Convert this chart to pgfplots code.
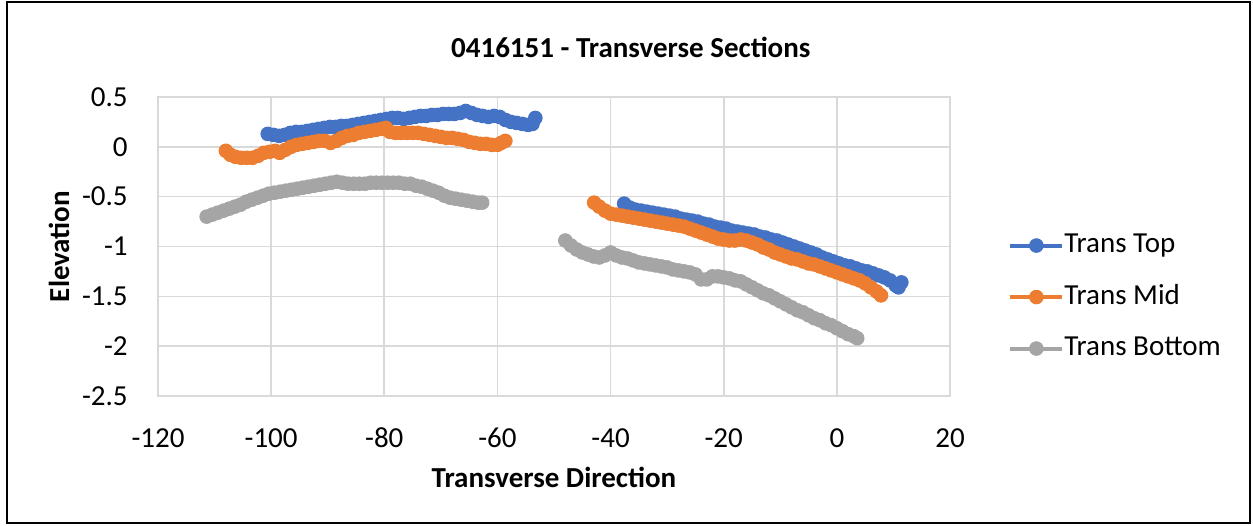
\documentclass[border=0pt]{standalone}
\usepackage{fontspec}
\setmainfont{Carlito}
\usepackage{pgfplots}
\usepackage{pgfplotstable}
\pgfplotsset{compat=1.18}
\definecolor{ctop}{HTML}{4472C4}
\definecolor{cmid}{HTML}{ED7D31}
\definecolor{cbot}{HTML}{A5A5A5}
\definecolor{cgrid}{HTML}{D9D9D9}

\pgfplotstableread{
x y
-100.6 0.13
-99.6 0.12
-98.6 0.11
-97.6 0.12
-96.6 0.14
-95.6 0.15
-94.6 0.15
-93.6 0.16
-92.6 0.17
-91.6 0.18
-90.6 0.19
-89.6 0.20
-88.6 0.20
-87.6 0.21
-86.6 0.21
-85.6 0.22
-84.6 0.23
-83.6 0.24
-82.6 0.25
-81.6 0.26
-80.6 0.27
-79.6 0.28
-78.6 0.29
-77.6 0.29
-76.6 0.28
-75.6 0.29
-74.6 0.30
-73.6 0.31
-72.6 0.31
-71.6 0.32
-70.6 0.32
-69.6 0.33
-68.6 0.33
-67.6 0.33
-66.6 0.34
-65.6 0.36
-64.6 0.34
-63.6 0.32
-62.6 0.31
-61.6 0.30
-60.6 0.31
-59.6 0.30
-58.6 0.27
-57.6 0.25
-56.6 0.24
-55.6 0.23
-54.6 0.22
-53.8 0.23
-53.3 0.29
nan nan
-37.6 -0.57
-36.6 -0.61
-35.6 -0.63
-34.6 -0.64
-33.6 -0.65
-32.6 -0.66
-31.6 -0.67
-30.6 -0.68
-29.6 -0.69
-28.6 -0.70
-27.6 -0.72
-26.6 -0.73
-25.6 -0.74
-24.6 -0.75
-23.6 -0.77
-22.6 -0.78
-21.6 -0.80
-20.6 -0.81
-19.6 -0.82
-18.6 -0.84
-17.6 -0.85
-16.6 -0.86
-15.6 -0.87
-14.6 -0.88
-13.6 -0.90
-12.6 -0.91
-11.6 -0.93
-10.6 -0.94
-9.6 -0.96
-8.6 -0.98
-7.6 -1.00
-6.6 -1.02
-5.6 -1.04
-4.6 -1.06
-3.6 -1.08
-2.6 -1.11
-1.6 -1.13
-0.6 -1.15
0.4 -1.17
1.4 -1.19
2.4 -1.20
3.4 -1.22
4.4 -1.24
5.4 -1.25
6.4 -1.27
7.4 -1.29
8.4 -1.31
9.4 -1.34
10.4 -1.39
10.9 -1.41
11.4 -1.36
}\toptable

\pgfplotstableread{
x y
-108.0 -0.04
-107.2 -0.08
-106.3 -0.10
-105.3 -0.11
-104.3 -0.11
-103.3 -0.11
-102.3 -0.09
-101.3 -0.06
-100.3 -0.05
-99.3 -0.04
-98.5 -0.06
-97.5 -0.03
-96.5 0.00
-95.5 0.02
-94.5 0.03
-93.5 0.04
-92.5 0.05
-91.5 0.06
-90.5 0.06
-89.5 0.04
-88.5 0.06
-87.5 0.09
-86.5 0.11
-85.5 0.12
-84.5 0.14
-83.5 0.15
-82.5 0.16
-81.5 0.17
-80.5 0.18
-79.7 0.19
-79.0 0.15
-78.0 0.14
-77.0 0.14
-76.0 0.14
-75.0 0.14
-74.0 0.14
-73.0 0.13
-72.0 0.12
-71.0 0.11
-70.0 0.10
-69.0 0.09
-68.0 0.09
-67.0 0.08
-66.0 0.07
-65.0 0.05
-64.0 0.04
-63.0 0.03
-62.0 0.03
-61.0 0.02
-60.0 0.02
-59.3 0.04
-58.6 0.06
nan nan
-42.9 -0.56
-42.0 -0.60
-41.0 -0.64
-40.0 -0.67
-39.0 -0.68
-38.0 -0.69
-37.0 -0.70
-36.0 -0.71
-35.0 -0.72
-34.0 -0.73
-33.0 -0.74
-32.0 -0.75
-31.0 -0.76
-30.0 -0.77
-29.0 -0.78
-28.0 -0.79
-27.0 -0.80
-26.0 -0.82
-25.0 -0.84
-24.0 -0.86
-23.0 -0.88
-22.0 -0.90
-21.0 -0.92
-20.0 -0.93
-19.0 -0.94
-18.0 -0.94
-17.0 -0.93
-16.0 -0.94
-15.0 -0.96
-14.0 -0.98
-13.0 -1.01
-12.0 -1.03
-11.0 -1.06
-10.0 -1.08
-9.0 -1.10
-8.0 -1.12
-7.0 -1.13
-6.0 -1.15
-5.0 -1.17
-4.0 -1.18
-3.0 -1.20
-2.0 -1.22
-1.0 -1.24
0.0 -1.26
1.0 -1.28
2.0 -1.30
3.0 -1.32
4.0 -1.34
5.0 -1.37
6.0 -1.41
7.0 -1.45
7.8 -1.49
}\midtable

\pgfplotstableread{
x y
-111.4 -0.70
-110.4 -0.68
-109.4 -0.66
-108.4 -0.64
-107.4 -0.62
-106.4 -0.60
-105.4 -0.58
-104.4 -0.55
-103.4 -0.53
-102.4 -0.51
-101.4 -0.49
-100.4 -0.47
-99.4 -0.46
-98.4 -0.45
-97.4 -0.44
-96.4 -0.43
-95.4 -0.42
-94.4 -0.41
-93.4 -0.40
-92.4 -0.39
-91.4 -0.38
-90.4 -0.37
-89.4 -0.36
-88.4 -0.35
-87.4 -0.36
-86.4 -0.37
-85.4 -0.37
-84.4 -0.37
-83.4 -0.37
-82.4 -0.36
-81.4 -0.36
-80.4 -0.36
-79.4 -0.36
-78.4 -0.36
-77.4 -0.36
-76.4 -0.37
-75.4 -0.37
-74.4 -0.39
-73.4 -0.40
-72.4 -0.42
-71.4 -0.44
-70.4 -0.46
-69.4 -0.49
-68.4 -0.51
-67.4 -0.52
-66.4 -0.53
-65.4 -0.54
-64.4 -0.55
-63.4 -0.56
-62.7 -0.56
nan nan
-48.0 -0.94
-47.0 -0.99
-46.0 -1.03
-45.0 -1.06
-44.0 -1.08
-43.0 -1.10
-42.0 -1.11
-41.0 -1.09
-40.0 -1.06
-39.0 -1.09
-38.0 -1.11
-37.0 -1.12
-36.0 -1.14
-35.0 -1.16
-34.0 -1.17
-33.0 -1.18
-32.0 -1.19
-31.0 -1.20
-30.0 -1.21
-29.0 -1.23
-28.0 -1.24
-27.0 -1.25
-26.0 -1.26
-25.0 -1.28
-24.0 -1.33
-23.0 -1.33
-22.0 -1.30
-21.0 -1.30
-20.0 -1.31
-19.0 -1.32
-18.0 -1.34
-17.0 -1.35
-16.0 -1.38
-15.0 -1.41
-14.0 -1.44
-13.0 -1.47
-12.0 -1.49
-11.0 -1.52
-10.0 -1.55
-9.0 -1.58
-8.0 -1.61
-7.0 -1.64
-6.0 -1.66
-5.0 -1.69
-4.0 -1.72
-3.0 -1.74
-2.0 -1.77
-1.0 -1.79
0.0 -1.82
1.0 -1.85
2.0 -1.88
3.0 -1.90
3.6 -1.92
}\bottable

\begin{document}
\begin{tikzpicture}[font=\fontsize{14.5pt}{17pt}\selectfont]
\useasboundingbox (0,0) rectangle (626.5pt,-262.5pt);
\draw[line width=0.9pt] (3.5pt,-0.8pt) rectangle (625pt,-261.5pt);
\begin{axis}[
  at={(79pt,-198pt)}, anchor=south west,
  scale only axis, width=396pt, height=149.5pt,
  xmin=-120, xmax=20, ymin=-2.5, ymax=0.5,
  xtick={-120,-100,...,20}, ytick={-2.5,-2,...,0.5},
  grid=major, major grid style={cgrid, line width=0.8pt},
  axis line style={cgrid, line width=0.8pt},
  major tick length=0pt,
  /pgf/number format/assume math mode=true,
  yticklabel style={inner sep=0pt, anchor=east, xshift=-15pt},
  xticklabel style={inner sep=0pt, anchor=center, yshift=-21pt},
  every axis title shift=0pt,
  title={0416151 - Transverse Sections},
  title style={at={(axis description cs:0.597,1.167)}, anchor=center, font=\fontsize{14.5pt}{17pt}\selectfont\bfseries},
  xlabel={Transverse Direction},
  xlabel style={at={(axis description cs:0.5,-0.271)}, anchor=center, font=\fontsize{14.5pt}{17pt}\selectfont\bfseries},
  ylabel={Elevation},
  ylabel style={at={(axis description cs:-0.125,0.5)}, anchor=center, rotate=0, font=\fontsize{14.5pt}{17pt}\selectfont\bfseries},
  unbounded coords=jump,
  legend cell align=left,
  legend style={draw=none, fill=none, at={(axis description cs:1.0732,0.331)}, anchor=west,
    inner sep=0pt, row sep=12.75pt,
    nodes={inner sep=0pt, text height=10pt, text depth=3pt},
    /tikz/every even column/.append style={column sep=3.5pt}},
  legend image code/.code={\draw[mark repeat=2, mark phase=2] plot coordinates {(0pt,0pt) (13pt,0pt) (26pt,0pt)};},
]
\addplot[ctop, line width=2pt, mark=*, mark size=3.4pt, mark options={fill=ctop, draw=ctop, line width=0.5pt}] table[x=x,y=y] {\toptable};
\addlegendentry{Trans Top}
\addplot[cmid, line width=2pt, mark=*, mark size=3.4pt, mark options={fill=cmid, draw=cmid, line width=0.5pt}] table[x=x,y=y] {\midtable};
\addlegendentry{Trans Mid}
\addplot[cbot, line width=2pt, mark=*, mark size=3.4pt, mark options={fill=cbot, draw=cbot, line width=0.5pt}] table[x=x,y=y] {\bottable};
\addlegendentry{Trans Bottom}
\end{axis}
\end{tikzpicture}
\end{document}
